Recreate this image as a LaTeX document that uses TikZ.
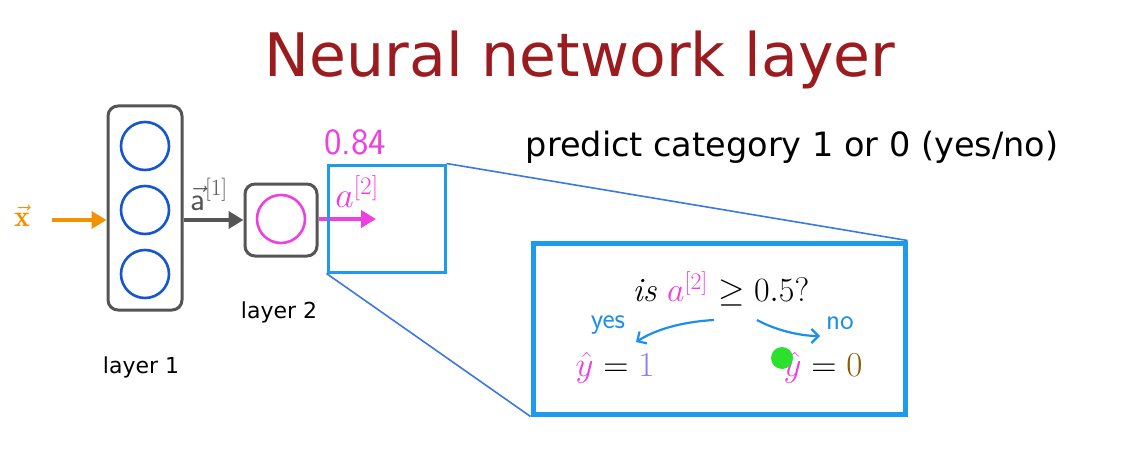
\RequirePackage{fix-cm}
\documentclass[tikz,border=0pt]{standalone}
\usepackage{fontspec}
\newfontfamily\vf{DejaVu Sans}
\usetikzlibrary{arrows.meta}
\definecolor{titlered}{HTML}{9B1B1E}
\definecolor{xorange}{HTML}{F39200}
\definecolor{boxgray}{HTML}{555555}
\definecolor{nblue}{HTML}{1356D0}
\definecolor{mag}{HTML}{EE3FE0}
\definecolor{lblue}{HTML}{1E9BEA}
\definecolor{zblue}{HTML}{3B78E0}
\definecolor{hblue}{HTML}{1E8FE8}
\definecolor{lav}{HTML}{8C7CF0}
\definecolor{brown0}{HTML}{8B5A00}
\definecolor{dotgreen}{HTML}{2EE02E}
\begin{document}
\begin{tikzpicture}[x=1pt,y=-1pt,
  layerbox/.style={draw=boxgray,line width=3pt,rounded corners=10pt},
  neuron/.style={circle,line width=2.6pt,minimum size=48pt,inner sep=0pt},
  fatarrow/.style={line width=4.5pt,-{Triangle[length=15pt,width=17pt]}},
  lbl/.style={inner sep=0pt,font=\vf\fontsize{22}{24}\selectfont},
  hand/.style={inner sep=0pt,font=\sffamily\fontsize{29}{31}\selectfont,text=hblue},
  harrow/.style={draw=hblue,line width=2.2pt,-{Straight Barb[length=7pt,width=14pt]}}]
\useasboundingbox (0,0) rectangle (1135,468);
% title
\node[inner sep=0pt,text=titlered,font=\vf\fontsize{60}{64}\selectfont] (title) at (580,60) {Neural network layer};
\node[inner sep=0pt,font=\vf\fontsize{33.5}{36}\selectfont] (pred) at (792,147) {predict category 1 or 0 (yes/no)};
% layer 1
\node[layerbox,minimum width=74pt,minimum height=204pt] (l1) at (145,208) {};
\node[neuron,draw=nblue] (n1) at (145,146) {};
\node[neuron,draw=nblue] (n2) at (145,210) {};
\node[neuron,draw=nblue] (n3) at (145,274) {};
\node[lbl] (l1t) at (141,367) {layer 1};
% input
\node[inner sep=0pt,text=xorange,font=\fontsize{30}{32}\selectfont] (x) at (22,216) {$\vec{\mathbf{x}}$};
\coordinate (xs) at (52,220);
\draw[fatarrow,draw=xorange,color=xorange] (xs) -- (l1.west|-xs);
% layer 2
\node[layerbox,minimum width=72pt,minimum height=72pt] (l2) at (281,220) {};
\node[neuron,draw=mag] (n4) at (281,219) {};
\node[lbl] (l2t) at (279,312) {layer 2};
\draw[fatarrow,draw=boxgray,color=boxgray] (l1.east|-l2) -- (l2.west);
\node[inner sep=0pt,text=boxgray,font=\fontsize{33}{35}\selectfont] (a1) at (209,194) {$\vec{\textsf{a}}^{[1]}$};
% output
\coordinate (oe) at (376,219);
\draw[fatarrow,draw=mag,color=mag] (l2.east|-oe) -- (oe);
\node[inner sep=0pt,text=mag,font=\fontsize{36}{38}\selectfont] (a2) at (357,192) {$a^{[2]}$};
\node[inner sep=0pt,text=mag,font=\sffamily\fontsize{37}{39}\selectfont] (v) at (355,142) {0.84};
% small box and zoom lines
\node[draw=lblue,line width=3pt,minimum width=117pt,minimum height=107pt,inner sep=0pt] (sb) at (386.5,218.5) {};
\node[draw=lblue,line width=5pt,minimum width=372pt,minimum height=171pt,inner sep=0pt] (bb) at (719,328.5) {};
\draw[zblue,line width=1.6pt] (sb.north east) -- (bb.north east);
\draw[zblue,line width=1.6pt] (sb.south west) -- (bb.south west);
% content of big box
\node[inner sep=0pt,font=\fontsize{34}{36}\selectfont] (q) at (721,289) {\textit{is} \textcolor{mag}{$a^{[2]}$} $\geq 0.5$?};
\node[inner sep=0pt,font=\fontsize{35}{37}\selectfont] (y1) at (615,368) {$\textcolor{mag}{\hat{y}} = \textcolor{lav}{1}$};
\node[inner sep=0pt,font=\fontsize{35}{37}\selectfont] (y0) at (823,368) {$\textcolor{mag}{\hat{y}} = \textcolor{brown0}{0}$};
\node[hand] (yes) at (608,325) {yes};
\node[hand] (no) at (840,323) {no};
\coordinate (ys) at (714,320);
\coordinate (ye) at (636,342);
\coordinate (ns) at (757,320);
\coordinate (ne) at (820,336);
\draw[harrow] (ys) .. controls (680,322) and (655,330) .. (ye);
\draw[harrow] (ns) .. controls (775,330) and (800,336) .. (ne);
\fill[dotgreen] (782,358) circle (11pt);
\end{tikzpicture}
\end{document}
